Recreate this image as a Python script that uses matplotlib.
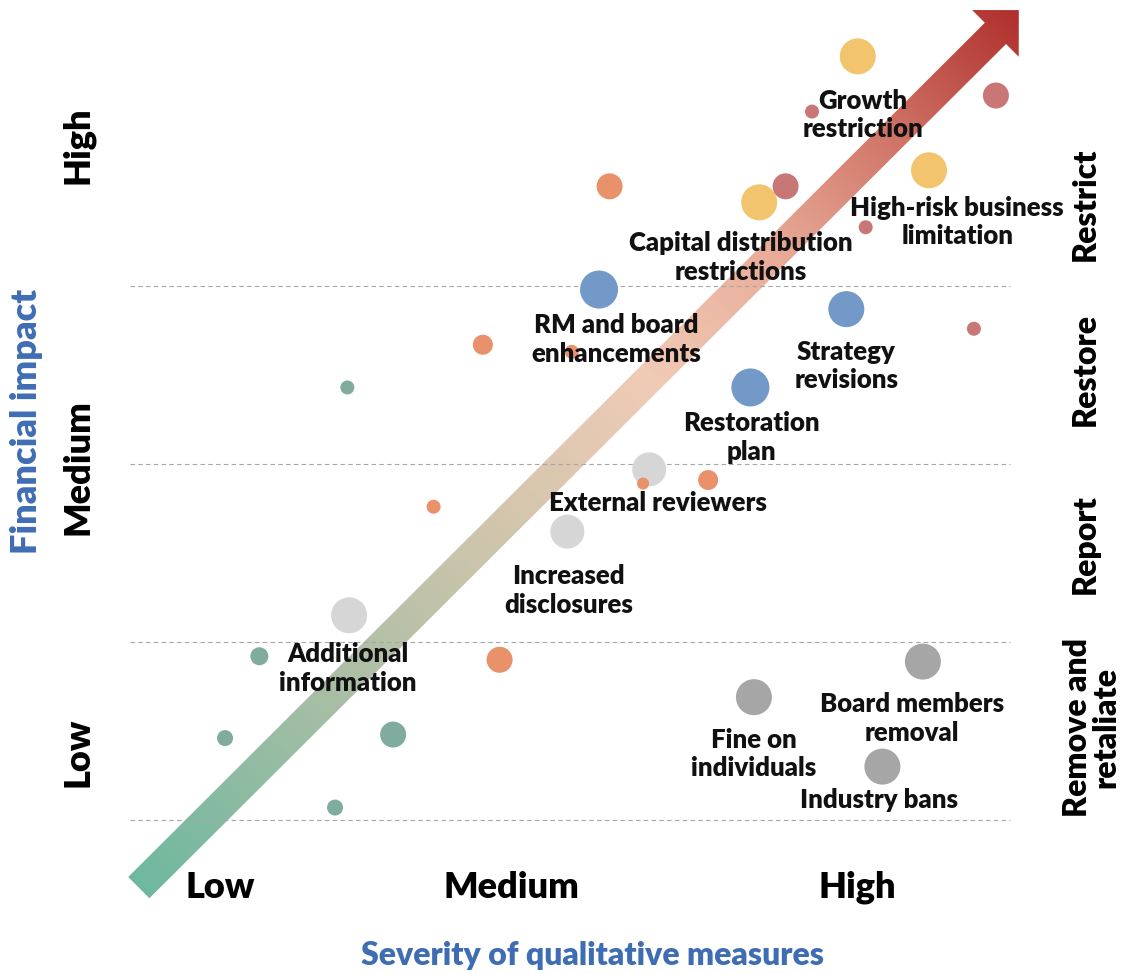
import numpy as np
import matplotlib.pyplot as plt
from matplotlib.colors import LinearSegmentedColormap
from matplotlib.patches import Polygon

plt.rcParams['font.family'] = ['Lato', 'DejaVu Sans']
WEIGHT = 'heavy'

# severity of qualitative measures (0-100), financial impact (0-4 bands), bubble radius
teal_x = [14.7, 10.8, 29.9, 23.3, 24.7]
teal_y = [0.92, 0.46, 0.48, 0.07, 2.43]
teal_r = [9, 8, 13, 8, 7]

lgray_x = [24.9, 49.7, 59.0]
lgray_y = [1.15, 1.62, 1.97]
lgray_r = [18, 17, 17]

orange_x = [42.0, 34.5, 40.1, 50.2, 58.3, 65.7, 54.5]
orange_y = [0.90, 1.76, 2.67, 2.63, 1.89, 1.91, 3.56]
orange_r = [13, 7, 10, 7, 6, 10, 13]

blue_x = [53.3, 70.5, 81.4]
blue_y = [2.98, 2.43, 2.87]
blue_r = [19, 19, 18]

yellow_x = [82.7, 71.5, 90.8]
yellow_y = [4.29, 3.47, 3.65]
yellow_r = [18, 18, 18]

rose_x = [74.5, 77.5, 83.6, 98.4, 95.9]
rose_y = [3.56, 3.98, 3.33, 4.07, 2.76]
rose_r = [13, 7, 7, 13, 7]

dgray_x = [70.9, 90.1, 85.5]
dgray_y = [0.69, 0.89, 0.30]
dgray_r = [18, 18, 18]

measures = ["Growth\nrestriction", "High-risk business\nlimitation",
            "Capital distribution\nrestrictions", "RM and board\nenhancements",
            "Strategy\nrevisions", "Restoration\nplan", "External reviewers",
            "Increased\ndisclosures", "Additional\ninformation",
            "Board members\nremoval", "Fine on\nindividuals", "Industry bans"]
measure_x = [83.3, 94.0, 69.4, 55.3, 81.4, 70.6, 60.0, 49.8, 24.8, 88.9, 70.9, 85.1]
measure_y = [3.96, 3.36, 3.16, 2.70, 2.55, 2.15, 1.78, 1.29, 0.85, 0.57, 0.37, 0.11]

sev_labels = ["Low", "Medium", "High"]
sev_pos = [10.2, 43.4, 82.6]
impact_labels = ["Low", "Medium", "High"]
impact_pos = [0.38, 1.98, 3.79]
bands = ["Remove and\nretaliate", "Report", "Restore", "Restrict"]
band_pos = [0.52, 1.55, 2.53, 3.46]
band_lines = [0, 1, 2, 3]

arrow_start = (1.0, -0.38)
arrow_end = (101.0, 4.55)

fig = plt.figure(figsize=(11.34, 9.74), dpi=100)
ax = fig.add_axes([0, 0, 1, 1])
ax.set_xlim(-130 / 8.8, (1134 - 130) / 8.8)
ax.set_ylim(-(974 - 820) / 178, 820 / 178)
ax.axis('off')

# dashed band boundaries
ax.hlines(band_lines, 0, 100, colors='#a6a6a6', linestyles=(0, (4, 3)), linewidth=0.8, zorder=3)

# gradient arrow, built in display pixels
tr = ax.transData
p0 = tr.transform(arrow_start)
p1 = tr.transform(arrow_end)
d = p1 - p0
L = np.hypot(*d)
u = d / L
n = np.array([-u[1], u[0]])
hw, head_w, head_l = 15, 33, 33
base = p1 - u * head_l
pts = [p0 + n * hw, base + n * hw, base + n * head_w, p1,
       base - n * head_w, base - n * hw, p0 - n * hw]
poly = Polygon(tr.inverted().transform(pts), closed=True, facecolor='none', edgecolor='none')
ax.add_patch(poly)

cmap = LinearSegmentedColormap.from_list('arr', [
    (0.0, '#6fb8a0'), (0.22, '#a9bfa5'), (0.42, '#d3c6ad'), (0.58, '#f0cbb6'),
    (0.72, '#e9ad9a'), (0.86, '#cf7466'), (1.0, '#b0302e')])
xl, yl = ax.get_xlim(), ax.get_ylim()
gx, gy = np.meshgrid(np.linspace(*xl, 600), np.linspace(*yl, 500))
disp = tr.transform(np.column_stack([gx.ravel(), gy.ravel()]))
t = ((disp - p0) @ u / L).reshape(gx.shape)
im = ax.imshow(np.clip(t, 0, 1), extent=(*xl, *yl), origin='lower', cmap=cmap,
               aspect='auto', zorder=2, interpolation='bilinear')
im.set_clip_path(poly)


def bubbles(xs, ys, rs, color):
    s = [(2 * r * 0.72) ** 2 for r in rs]
    ax.scatter(xs, ys, s=s, color=color, edgecolors='none', zorder=4)


bubbles(teal_x, teal_y, teal_r, '#80ab9f')
bubbles(lgray_x, lgray_y, lgray_r, '#d6d6d6')
bubbles(blue_x, blue_y, blue_r, '#7399c8')
bubbles(yellow_x, yellow_y, yellow_r, '#f2c46e')
bubbles(rose_x, rose_y, rose_r, '#c97676')
bubbles(dgray_x, dgray_y, dgray_r, '#a6a6a6')
bubbles(orange_x, orange_y, orange_r, '#e8916a')

for lab, x, y in zip(measures, measure_x, measure_y):
    ax.text(x, y, lab, ha='center', va='center', fontsize=18.5, fontweight=WEIGHT,
            color='#111111', linespacing=1.22, zorder=6)

for lab, x in zip(sev_labels, sev_pos):
    ax.text(x, -0.38, lab, ha='center', va='center', fontsize=26, fontweight=WEIGHT)
for lab, y in zip(impact_labels, impact_pos):
    ax.text(-5.9, y, lab, ha='center', va='center', fontsize=26, fontweight=WEIGHT, rotation=90)
for lab, y in zip(bands, band_pos):
    ax.text(109.3 if '\n' in lab else 108.5, y, lab, ha='center', va='center', fontsize=23,
            fontweight=WEIGHT, rotation=90, linespacing=1.0)

ax.text(52.6, -0.76, "Severity of qualitative measures", ha='center', va='center',
        fontsize=23, fontweight=WEIGHT, color='#3f6db4')
ax.text(-11.8, 2.24, "Financial impact", ha='center', va='center', rotation=90,
        fontsize=26, fontweight=WEIGHT, color='#3f6db4')

fig.savefig('out.png', dpi=100)
